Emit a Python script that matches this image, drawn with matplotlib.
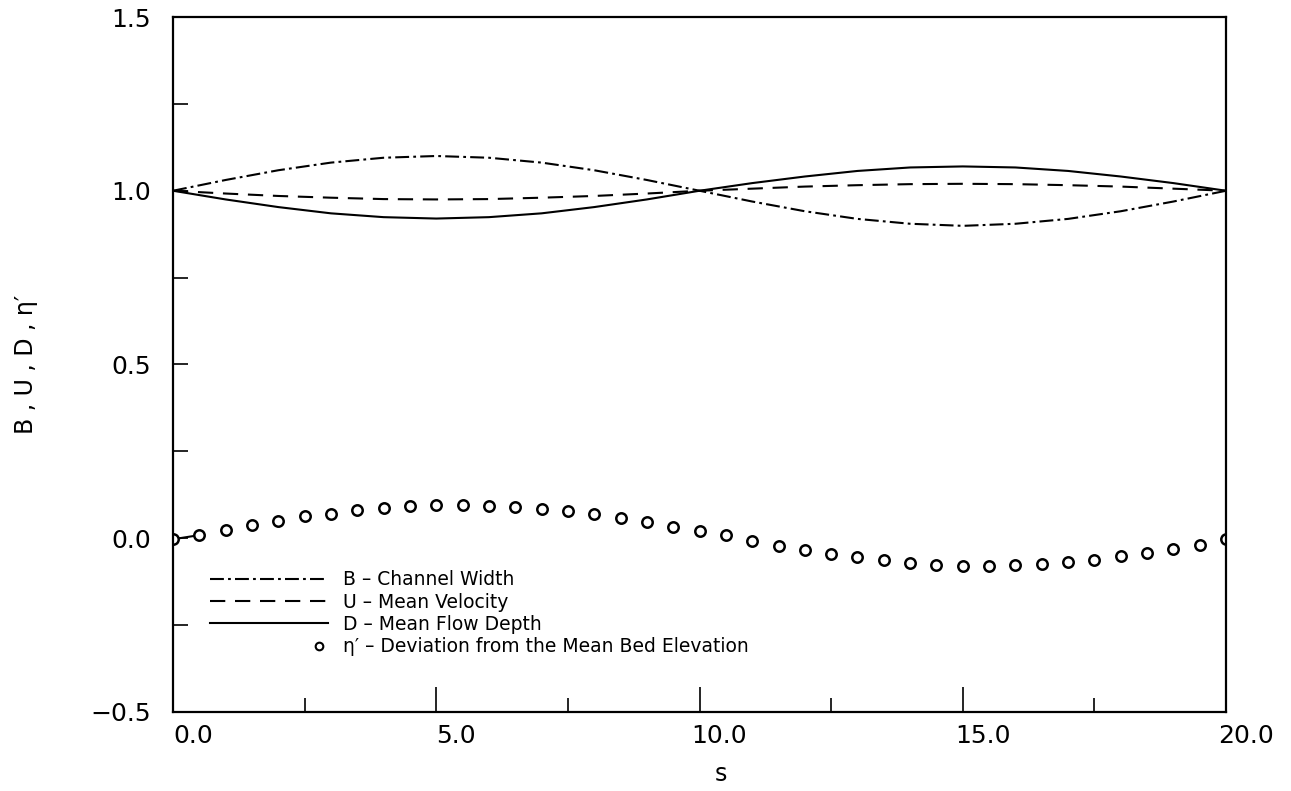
import numpy as np
import matplotlib
matplotlib.use("Agg")
import matplotlib.pyplot as plt
import matplotlib.transforms as mtransforms
from matplotlib.legend_handler import HandlerLine2D
from matplotlib.ticker import MultipleLocator, FuncFormatter

# distance along the channel
s = [0, 1, 2, 3, 4, 5, 6, 7, 8, 9, 10,
     11, 12, 13, 14, 15, 16, 17, 18, 19, 20]

# channel width, mean velocity and mean flow depth
B = [1.000, 1.031, 1.059, 1.081, 1.095, 1.100, 1.095, 1.081, 1.059, 1.031, 1.000,
     0.969, 0.941, 0.919, 0.905, 0.899, 0.905, 0.919, 0.941, 0.969, 1.000]
U = [1.000, 0.992, 0.985, 0.980, 0.976, 0.975, 0.976, 0.980, 0.985, 0.992, 1.000,
     1.006, 1.012, 1.016, 1.019, 1.020, 1.019, 1.016, 1.012, 1.006, 1.000]
D = [1.000, 0.975, 0.953, 0.935, 0.924, 0.920, 0.924, 0.935, 0.953, 0.975, 1.000,
     1.022, 1.041, 1.057, 1.067, 1.070, 1.067, 1.057, 1.041, 1.022, 1.000]

# bed elevation deviation, sampled every half unit
s_eta = [0.0, 0.5, 1.0, 1.5, 2.0, 2.5, 3.0, 3.5, 4.0, 4.5,
         5.0, 5.5, 6.0, 6.5, 7.0, 7.5, 8.0, 8.5, 9.0, 9.5,
         10.0, 10.5, 11.0, 11.5, 12.0, 12.5, 13.0, 13.5, 14.0, 14.5,
         15.0, 15.5, 16.0, 16.5, 17.0, 17.5, 18.0, 18.5, 19.0, 19.5, 20.0]
eta = [-0.003, 0.009, 0.024, 0.037, 0.051, 0.063, 0.071, 0.081, 0.088, 0.092,
       0.095, 0.095, 0.093, 0.089, 0.084, 0.078, 0.069, 0.058, 0.046, 0.033,
       0.021, 0.008, -0.007, -0.021, -0.033, -0.045, -0.055, -0.064, -0.071, -0.076,
       -0.079, -0.079, -0.078, -0.074, -0.069, -0.062, -0.052, -0.043, -0.031, -0.019, -0.003]


class EndMarkerHandler(HandlerLine2D):
    # legend key with a small marker near the right end of the key
    def create_artists(self, legend, orig_handle, xdescent, ydescent,
                       width, height, fontsize, trans):
        arts = super().create_artists(legend, orig_handle, xdescent, ydescent,
                                      width, height, fontsize, trans)
        line = arts[0]
        x = np.asarray(line.get_xdata(), dtype=float)
        line.set_xdata(x + 0.85 * (x[-1] - x[len(x) // 2]))
        line.set_markersize(5.5)
        line.set_markeredgewidth(1.5)
        return arts


def fmt(v, pos):
    return f'{v:.1f}'.replace('-', '\u2212')


plt.rcParams['font.family'] = ['DejaVu Sans']
plt.rcParams['lines.scale_dashes'] = False

fig = plt.figure(figsize=(12.91, 7.91), dpi=100)
ax = fig.add_axes([0.134, 0.0999, 0.8157, 0.8786])

lb, = ax.plot(s, B, color='black', lw=1.5, dashes=(10, 3, 2, 3),
              label='B – Channel Width')
lu, = ax.plot(s, U, color='black', lw=1.5, dashes=(11, 7),
              label='U – Mean Velocity')
ld, = ax.plot(s, D, color='black', lw=1.5, linestyle='-',
              label='D – Mean Flow Depth')
ax.plot(s_eta[:2], eta[:2], color='black', lw=1.5)
le, = ax.plot(s_eta, eta, linestyle='none', marker='o', ms=7.5,
              mfc='white', mec='black', mew=1.8,
              label='η′ – Deviation from the Mean Bed Elevation')

ax.set_xlim(0, 20)
ax.set_ylim(-0.5, 1.5)
ax.xaxis.set_major_locator(MultipleLocator(5))
ax.xaxis.set_minor_locator(MultipleLocator(2.5))
ax.yaxis.set_major_locator(MultipleLocator(0.5))
ax.yaxis.set_minor_locator(MultipleLocator(0.25))
ax.xaxis.set_major_formatter(FuncFormatter(fmt))
ax.yaxis.set_major_formatter(FuncFormatter(fmt))

ax.tick_params(axis='x', which='major', direction='in', length=18, width=1.2,
               labelsize=18, pad=9)
ax.tick_params(axis='x', which='minor', direction='in', length=10, width=1.2)
ax.tick_params(axis='y', which='both', direction='in', length=11, width=1.2,
               labelsize=18, pad=16)
for sp in ax.spines.values():
    sp.set_linewidth(1.6)

# the x tick labels sit a little right of their ticks
shift = mtransforms.ScaledTranslation(20 / 100, 0, fig.dpi_scale_trans)
for lab in ax.get_xticklabels():
    lab.set_transform(lab.get_transform() + shift)

ax.set_xlabel('s', fontsize=17)
ax.xaxis.set_label_coords(0.52, -0.072)
ax.set_ylabel('B , U , D , η′', fontsize=17)
ax.yaxis.set_label_coords(-0.128, 0.5)

ax.legend(handles=[lb, lu, ld, le], loc='upper left',
          bbox_to_anchor=(0.035, 0.204), frameon=False, fontsize=13.5,
          handlelength=6.3, handletextpad=0.8, labelspacing=0.18,
          borderpad=0, borderaxespad=0, numpoints=1,
          handler_map={le: EndMarkerHandler(numpoints=1)})

fig.savefig('out.png', dpi=100)
